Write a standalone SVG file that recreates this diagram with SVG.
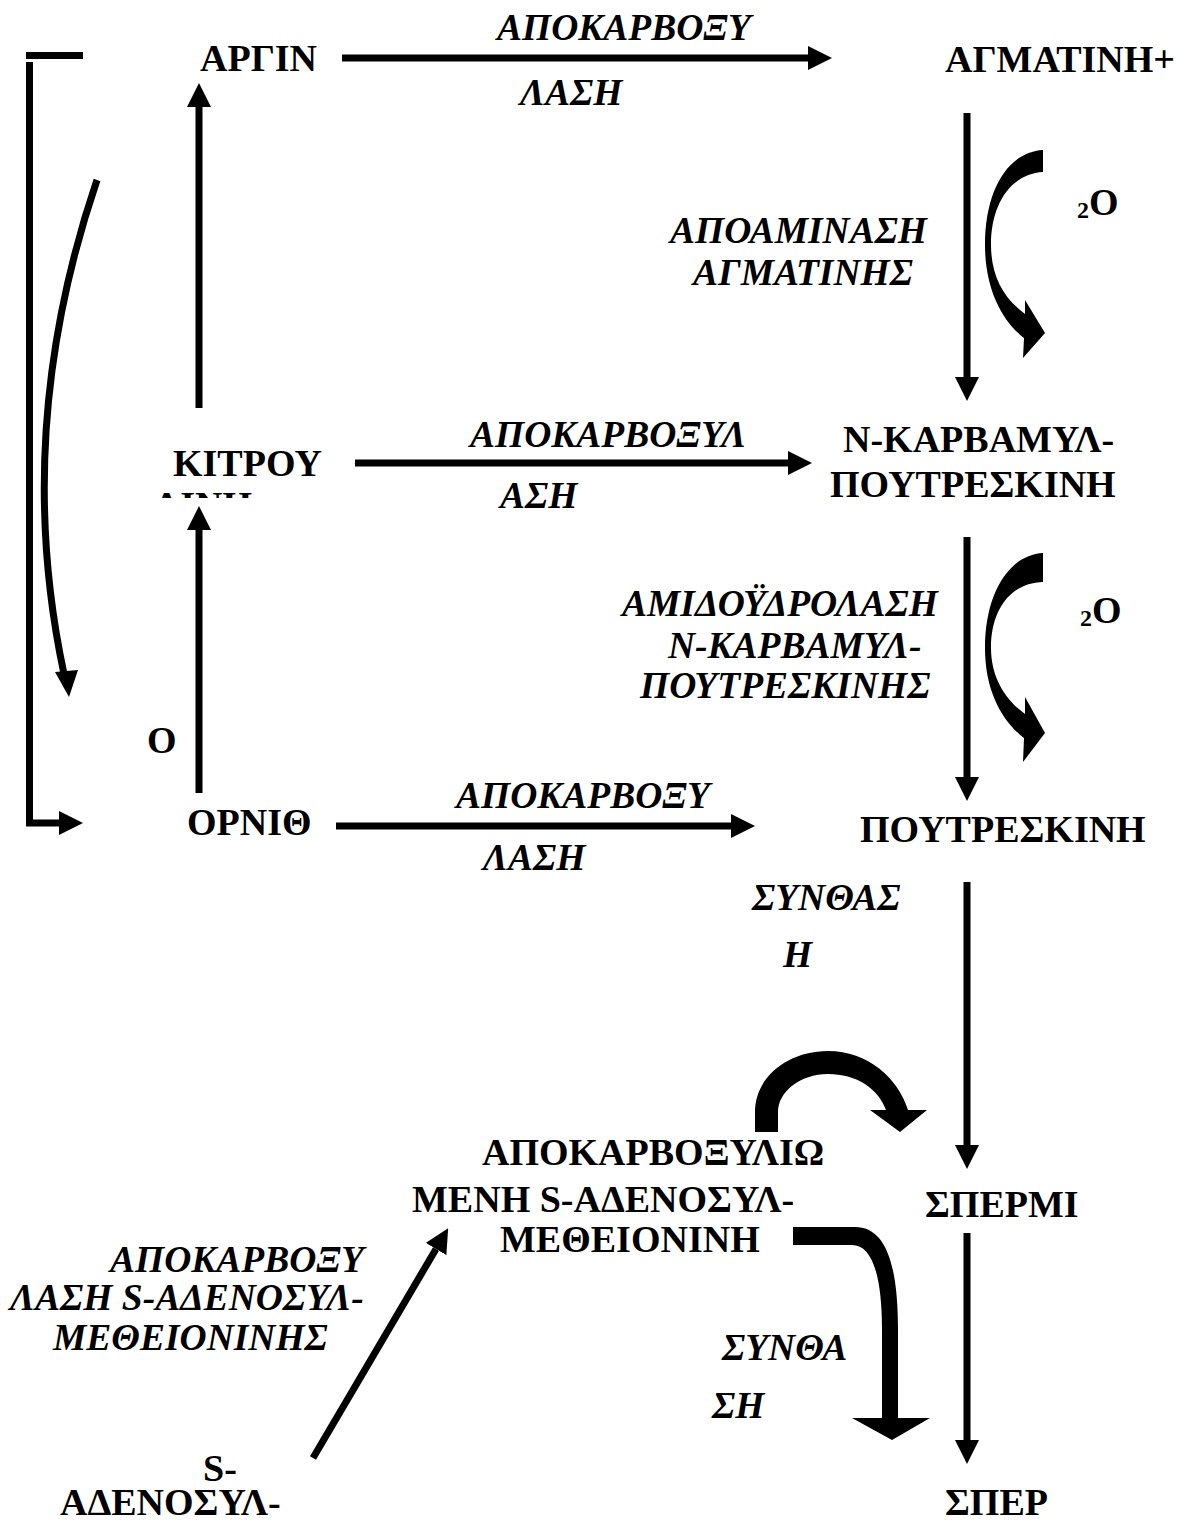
<svg xmlns="http://www.w3.org/2000/svg" width="1181" height="1520" viewBox="0 0 1181 1520">
<style>
.n{font-family:"Liberation Serif","Times New Roman",serif;font-weight:bold;font-size:38px;fill:#000}
.e{font-family:"Liberation Serif","Times New Roman",serif;font-weight:bold;font-style:italic;font-size:37.5px;fill:#000}
.ln{stroke:#000;stroke-width:7;fill:none}
.thick{fill:#000;stroke:none}
</style>
<defs>
<marker id="ah" markerUnits="userSpaceOnUse" markerWidth="24" markerHeight="24" refX="0" refY="12" orient="auto" viewBox="0 0 24 24">
<path d="M0,0 L24,12 L0,24 Z" fill="#000"/>
</marker>
<clipPath id="clipK"><rect x="140" y="480" width="130" height="18"/></clipPath>
</defs>
<rect width="1181" height="1520" fill="#fff"/>

<g id="connectors">
<line class="ln" x1="342" y1="58" x2="808" y2="58" marker-end="url(#ah)"/>
<line class="ln" x1="355" y1="463" x2="788" y2="463" marker-end="url(#ah)"/>
<line class="ln" x1="336" y1="826" x2="731" y2="826" marker-end="url(#ah)"/>
<line class="ln" x1="199" y1="408" x2="199" y2="107" marker-end="url(#ah)"/>
<line class="ln" x1="199" y1="793" x2="199" y2="530" marker-end="url(#ah)"/>
<line class="ln" x1="967" y1="113" x2="967" y2="377" marker-end="url(#ah)"/>
<line class="ln" x1="967" y1="537" x2="967" y2="777" marker-end="url(#ah)"/>
<line class="ln" x1="967" y1="882" x2="967" y2="1145" marker-end="url(#ah)"/>
<line class="ln" x1="967" y1="1233" x2="967" y2="1440" marker-end="url(#ah)"/>
<line class="ln" x1="313" y1="1458" x2="436" y2="1249" marker-end="url(#ah)"/>
<rect x="26" y="52" width="57" height="7" fill="#000"/>
<path class="ln" d="M29.5,62 L29.5,823 L59,823" stroke-width="8"/>
<path d="M59,811 L83,823 L59,835 Z" fill="#000"/>
<path class="ln" d="M97,180 Q12,430 64,674" stroke-width="6"/>
<path d="M55,672 L69,697 L78,670 Z" fill="#000"/>
<path class="thick" d="M1043,150 C1008,152 985,190 985,245 C985,290 1003,322 1024,338 L1023,358 L1045,333 L1025,300 L1025,314 C1003,298 991,275 991,245 C991,205 1010,174 1043,172 Z"/>
<path class="thick" d="M1043,553 C1008,555 985,595 985,648 C985,692 1003,722 1024,738 L1023,762 L1045,733 L1025,697 L1025,714 C1003,698 991,675 991,648 C991,610 1010,583 1043,582 Z"/>
<path class="thick" d="M755,1132 L755,1112 C755,1077 788,1051 828,1051 C868,1051 898,1078 908,1110 L927,1110 L900,1132 L870,1110 L886,1110 C878,1088 856,1074 828,1074 C800,1074 778,1092 778,1112 L778,1132 Z"/>
<path class="thick" d="M793,1227 L855,1227 C885,1227 898,1262 898,1330 L898,1418 L930,1418 L892,1440 L852,1418 L882,1418 L882,1330 C882,1275 872,1245 852,1245 L793,1245 Z"/>
</g>

<g id="arginine"><text class="n" x="200" y="71">ΑΡΓΙΝ</text></g>
<g id="agmatine"><text class="n" x="945" y="72">ΑΓΜΑΤΙΝΗ+</text></g>
<g id="citrulline"><text class="n" x="173" y="476">ΚΙΤΡΟΥ</text><text class="n" x="153" y="518" clip-path="url(#clipK)">ΛΙΝΗ</text></g>
<g id="ncarbamoylputrescine"><text class="n" x="843" y="452">Ν-ΚΑΡΒΑΜΥΛ-</text><text class="n" x="830" y="497">ΠΟΥΤΡΕΣΚΙΝΗ</text></g>
<g id="o-label"><text class="n" x="147" y="753">Ο</text></g>
<g id="ornithine"><text class="n" x="187" y="835">ΟΡΝΙΘ</text></g>
<g id="putrescine"><text class="n" x="860" y="842">ΠΟΥΤΡΕΣΚΙΝΗ</text></g>
<g id="dcsam"><text class="n" x="482" y="1165">ΑΠΟΚΑΡΒΟΞΥΛΙΩ</text><text class="n" x="412" y="1212">ΜΕΝΗ S-ΑΔΕΝΟΣΥΛ-</text><text class="n" x="500" y="1252">ΜΕΘΕΙΟΝΙΝΗ</text></g>
<g id="spermidine"><text class="n" x="925" y="1217">ΣΠΕΡΜΙ</text></g>
<g id="sam"><text class="n" x="203" y="1481">S-</text><text class="n" x="60" y="1515">ΑΔΕΝΟΣΥΛ-</text></g>
<g id="spermine"><text class="n" x="945" y="1515">ΣΠΕΡ</text></g>
<g id="water1"><text class="n" x="1077" y="215"><tspan font-size="24" dy="3">2</tspan><tspan dy="-3">O</tspan></text></g>
<g id="water2"><text class="n" x="1080" y="623"><tspan font-size="24" dy="3">2</tspan><tspan dy="-3">O</tspan></text></g>

<g id="enzyme-labels">
<text class="e" x="497" y="40">ΑΠΟΚΑΡΒΟΞΥ</text>
<text class="e" x="520" y="105">ΛΑΣΗ</text>
<text class="e" x="670" y="243">ΑΠΟΑΜΙΝΑΣΗ</text>
<text class="e" x="693" y="285">ΑΓΜΑΤΙΝΗΣ</text>
<text class="e" x="470" y="447">ΑΠΟΚΑΡΒΟΞΥΛ</text>
<text class="e" x="500" y="508">ΑΣΗ</text>
<text class="e" x="622" y="616">ΑΜΙΔΟΫΔΡΟΛΑΣΗ</text>
<text class="e" x="668" y="658">Ν-ΚΑΡΒΑΜΥΛ-</text>
<text class="e" x="640" y="698">ΠΟΥΤΡΕΣΚΙΝΗΣ</text>
<text class="e" x="456" y="808">ΑΠΟΚΑΡΒΟΞΥ</text>
<text class="e" x="483" y="870">ΛΑΣΗ</text>
<text class="e" x="752" y="910">ΣΥΝΘΑΣ</text>
<text class="e" x="783" y="967">Η</text>
<text class="e" x="722" y="1360">ΣΥΝΘΑ</text>
<text class="e" x="712" y="1418">ΣΗ</text>
<text class="e" x="110" y="1272">ΑΠΟΚΑΡΒΟΞΥ</text>
<text class="e" x="10" y="1310">ΛΑΣΗ S-ΑΔΕΝΟΣΥΛ-</text>
<text class="e" x="53" y="1350">ΜΕΘΕΙΟΝΙΝΗΣ</text>
</g>
</svg>
